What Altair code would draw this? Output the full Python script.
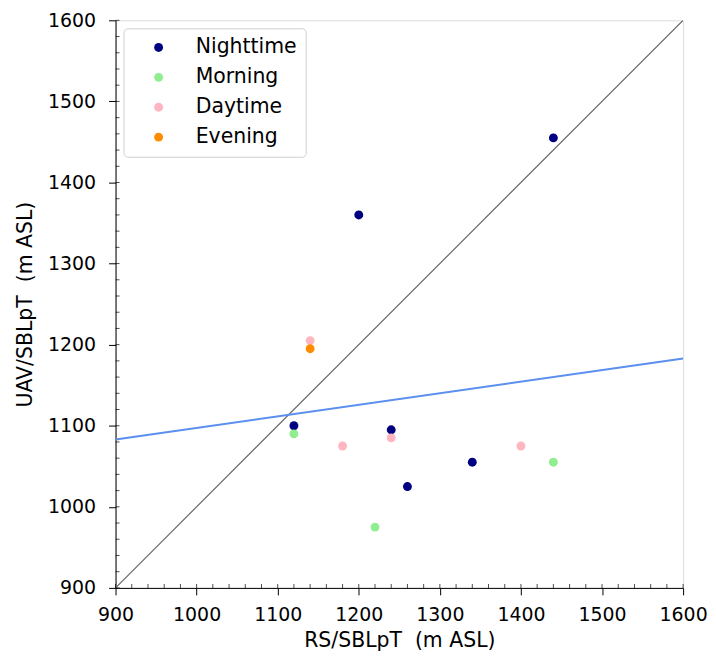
import altair as alt
import pandas as pd

# Observations
groups = ["Nighttime"] * 6 + ["Morning"] * 3 + ["Daytime"] * 4 + ["Evening"]
rs = [1440, 1200, 1120, 1240, 1340, 1260,
      1120, 1440, 1220,
      1140, 1180, 1240, 1400,
      1140]
uav = [1455, 1360, 1100, 1095, 1055, 1025,
       1090, 1055, 975,
       1205, 1075, 1085, 1075,
       1195]

cat_order = ["Nighttime", "Morning", "Daytime", "Evening"]
cat_colors = ["#000080", "#90EE90", "#FFB6C1", "#FF8C00"]

# 1:1 line and fitted line endpoints
one_x = [900, 1600]
one_y = [900, 1600]
fit_x = [900, 1600]
fit_y = [1083, 1183]

major_ticks = list(range(900, 1601, 100))
minor_ticks = list(range(900, 1601, 20))
axis_min = 900

NB = "\u00a0"
x_title = "RS/SBLpT" + NB + NB + "(m ASL)"
y_title = "UAV/SBLpT" + NB + NB + "(m ASL)"

pts = pd.DataFrame({"rs": rs, "uav": uav, "group": groups})
one = pd.DataFrame({"rs": one_x, "uav": one_y})
fit = pd.DataFrame({"rs": fit_x, "uav": fit_y})
minor = pd.DataFrame({"v": minor_ticks, "base": [axis_min] * len(minor_ticks)})

FONT = "DejaVu Sans"
FS = 19
TFS = 20.5
dom = [900, 1600]

xs = alt.Scale(domain=dom, nice=False, zero=False)
ys = alt.Scale(domain=dom, nice=False, zero=False)

x_axis = alt.Axis(values=major_ticks, format="d", title=x_title, grid=False,
                  tickSize=7, tickColor="black", domainColor="black",
                  labelFontSize=FS, titleFontSize=TFS, labelFont=FONT, titleFont=FONT,
                  labelColor="black", titleColor="black", titleFontWeight="normal",
                  labelPadding=11, titlePadding=6, labelFlush=False)
y_axis = alt.Axis(values=major_ticks, format="d", title=y_title, grid=False,
                  tickSize=7, tickColor="black", domainColor="black",
                  labelFontSize=FS, titleFontSize=TFS, labelFont=FONT, titleFont=FONT,
                  labelColor="black", titleColor="black", titleFontWeight="normal",
                  labelPadding=13, titlePadding=12)

one_line = alt.Chart(one).mark_line(color="#666666", strokeWidth=1.2, clip=True).encode(
    x=alt.X("rs:Q", scale=xs, axis=x_axis),
    y=alt.Y("uav:Q", scale=ys, axis=y_axis),
)

fit_line = alt.Chart(fit).mark_line(color="#5B8FF0", strokeWidth=2, clip=True).encode(
    x=alt.X("rs:Q", scale=xs),
    y=alt.Y("uav:Q", scale=ys),
)

points = alt.Chart(pts).mark_circle(size=80, opacity=1).encode(
    x=alt.X("rs:Q", scale=xs),
    y=alt.Y("uav:Q", scale=ys),
    color=alt.Color("group:N", scale=alt.Scale(domain=cat_order, range=cat_colors),
                    sort=cat_order,
                    legend=alt.Legend(title=None, orient="none", legendX=8, legendY=8,
                                      labelFontSize=TFS, labelFont=FONT, labelColor="black",
                                      symbolSize=80, symbolType="circle",
                                      symbolOffset=16, rowPadding=9, labelOffset=27,
                                      padding=9, strokeColor="#d0d0d0", fillColor="white",
                                      cornerRadius=4, symbolStrokeWidth=0,
                                      labelLimit=300)),
)

# minor (inward) ticks along bottom and left axes
minor_x = alt.Chart(minor).mark_tick(orient="vertical", size=4, thickness=1,
                                     color="black", yOffset=-2).encode(
    x=alt.X("v:Q", scale=xs),
    y=alt.Y("base:Q", scale=ys),
)
minor_y = alt.Chart(minor).mark_tick(orient="horizontal", size=4, thickness=1,
                                     color="black", xOffset=2).encode(
    y=alt.Y("v:Q", scale=ys),
    x=alt.X("base:Q", scale=xs),
)

chart = alt.layer(one_line, fit_line, points, minor_x, minor_y).properties(
    width=570, height=570,
    padding={"left": 7, "top": 2, "right": 0, "bottom": 0},
).configure_view(stroke="black", strokeWidth=1.2).configure(background="white")

chart.save("out.html", embed_options={"renderer": "svg", "actions": False})
